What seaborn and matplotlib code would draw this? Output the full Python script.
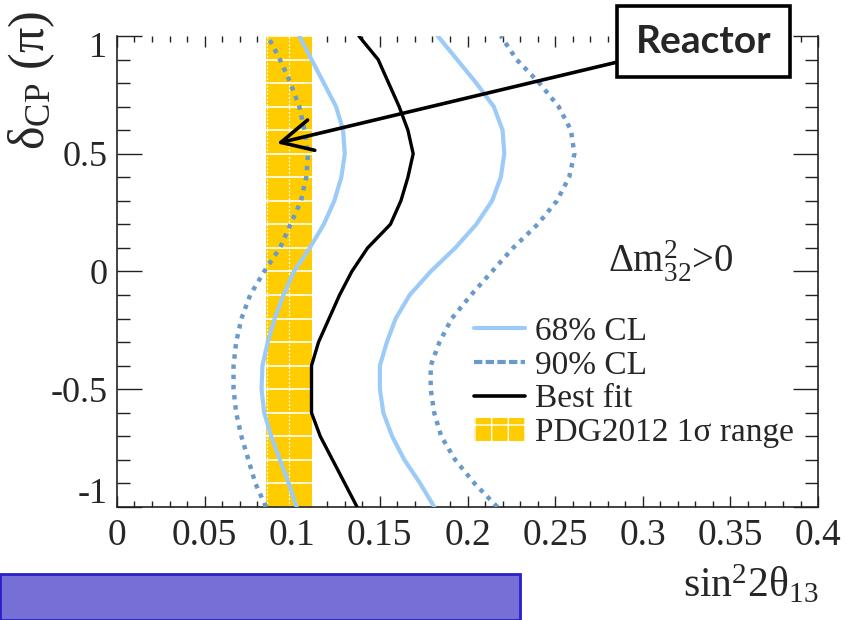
import numpy as np
import pandas as pd
import matplotlib
matplotlib.use("Agg")
import matplotlib.pyplot as plt
from matplotlib.lines import Line2D
from matplotlib.patches import Patch, Rectangle
from matplotlib.ticker import FixedLocator, MultipleLocator
import seaborn as sns

# ---- data -----------------------------------------------------------------
delta_cp = [-1.0, -0.9, -0.8, -0.7, -0.6, -0.5, -0.4, -0.3, -0.2, -0.1, 0.0,
            0.1, 0.2, 0.3, 0.4, 0.5, 0.6, 0.7, 0.8, 0.9, 1.0]

best_fit = [0.137, 0.130, 0.123, 0.116, 0.111, 0.111, 0.111, 0.115, 0.121, 0.127,
            0.134, 0.143, 0.156, 0.162, 0.166, 0.169, 0.166, 0.161, 0.155, 0.149, 0.138]

cl68_low = [0.1025, 0.098, 0.093, 0.088, 0.084, 0.0825, 0.083, 0.086, 0.090, 0.095,
            0.101, 0.110, 0.118, 0.124, 0.128, 0.130, 0.129, 0.125, 0.118, 0.111, 0.104]
cl68_high = [0.181, 0.173, 0.164, 0.157, 0.152, 0.150, 0.150, 0.154, 0.159, 0.167,
             0.179, 0.193, 0.205, 0.214, 0.219, 0.221, 0.220, 0.215, 0.205, 0.194, 0.183]

cl90_low = [0.085, 0.079, 0.075, 0.071, 0.068, 0.0665, 0.0665, 0.068, 0.071, 0.076,
            0.084, 0.093, 0.099, 0.105, 0.108, 0.109, 0.107, 0.104, 0.099, 0.093, 0.086]
cl90_high = [0.217, 0.204, 0.193, 0.185, 0.181, 0.179, 0.179, 0.184, 0.191, 0.202,
             0.214, 0.226, 0.240, 0.251, 0.258, 0.261, 0.259, 0.252, 0.241, 0.228, 0.219]

pdg2012_center = 0.098
pdg2012_sigma = 0.013

reactor_point = (0.0913, 0.544)

x_ticks = [0.0, 0.05, 0.1, 0.15, 0.2, 0.25, 0.3, 0.35, 0.4]
x_tick_labels = ["0", "0.05", "0.1", "0.15", "0.2", "0.25", "0.3", "0.35", "0.4"]
y_ticks = [-1.0, -0.5, 0.0, 0.5, 1.0]
y_tick_labels = ["-1", "-0.5", "0", "0.5", "1"]

# ---- style ------------------------------------------------------------------
sns.set_theme(style="ticks")
plt.rcParams["font.family"] = ["Liberation Serif", "DejaVu Serif"]
plt.rcParams["mathtext.fontset"] = "custom"
plt.rcParams["mathtext.rm"] = "Liberation Serif"
plt.rcParams["mathtext.it"] = "Liberation Serif:italic"
plt.rcParams["mathtext.bf"] = "Liberation Serif:bold"
plt.rcParams["axes.unicode_minus"] = False
plt.rcParams["hatch.linewidth"] = 1.0

C68 = "#9ccbf7"
C90 = "#6a9acb"
CBAND = "#ffcc00"
AXC = "#222222"

fig = plt.figure(figsize=(8.47, 6.2), dpi=100)
ax = fig.add_axes([0.1381, 0.1823, 0.8277, 0.7597])

# PDG2012 reactor band with its white grid
band_lo = pdg2012_center - pdg2012_sigma
band_hi = pdg2012_center + pdg2012_sigma
ax.axvspan(band_lo, band_hi, color=CBAND, lw=0, zorder=1)
grid_y = np.arange(-10, 11) / 10.0
ax.hlines(grid_y, band_lo, band_hi, colors="white", lw=1.2, zorder=1.5)
ax.vlines([band_lo + 0.0008, pdg2012_center], -1, 1, colors="white", lw=0.9,
          linestyles=(0, (1.5, 1.5)), zorder=1.5)

# contours: left and right branches drawn as separate open lines
curves = pd.DataFrame({
    "delta": delta_cp,
    "best": best_fit,
    "c68_lo": cl68_low, "c68_hi": cl68_high,
    "c90_lo": cl90_low, "c90_hi": cl90_high,
})

for col in ["c90_lo", "c90_hi"]:
    sns.lineplot(data=curves, x=col, y="delta", sort=False, estimator=None, ax=ax,
                 color=C90, lw=3.2, zorder=3)
    ax.lines[-1].set_dashes((1.0, 1.3))
    ax.lines[-1].set_dash_capstyle("butt")
for col in ["c68_lo", "c68_hi"]:
    sns.lineplot(data=curves, x=col, y="delta", sort=False, estimator=None, ax=ax,
                 color=C68, lw=3.0, zorder=3)
sns.lineplot(data=curves, x="best", y="delta", sort=False, estimator=None, ax=ax,
             color="black", lw=2.4, zorder=4)

# axes, ticks
ax.set_xlim(x_ticks[0], x_ticks[-1])
ax.set_ylim(y_ticks[0], y_ticks[-1])
ax.xaxis.set_major_locator(FixedLocator(x_ticks))
ax.xaxis.set_minor_locator(MultipleLocator(0.01))
ax.yaxis.set_major_locator(FixedLocator(y_ticks))
ax.yaxis.set_minor_locator(MultipleLocator(0.1))
ax.set_xticklabels(x_tick_labels)
ax.set_yticklabels(["" if abs(v) == 1 else s for v, s in zip(y_ticks, y_tick_labels)])

for side in ["left", "right", "bottom"]:
    ax.spines[side].set_color(AXC)
    ax.spines[side].set_linewidth(1.2)
ax.spines["top"].set_visible(False)

ax.tick_params(axis="x", which="major", direction="in", length=8, width=1,
               color=AXC, top=True, bottom=True, labelsize=27, pad=8)
ax.tick_params(axis="x", which="minor", direction="in", length=4.5, width=1,
               color=AXC, top=True, bottom=True)
ax.tick_params(axis="y", which="major", direction="in", length=18, width=1,
               color=AXC, left=True, right=True, labelsize=26, pad=7)
ax.tick_params(axis="y", which="minor", direction="in", length=9.5, width=1,
               color=AXC, left=True, right=True)

# end labels of the delta axis sit just inside the frame
for v, s in zip(y_ticks, y_tick_labels):
    if abs(v) == 1:
        ax.annotate(s, xy=(0, v), xycoords=("axes fraction", "data"),
                    xytext=(-7, -9 if v > 0 else 9), textcoords="offset points",
                    ha="right", va="center", fontsize=26, annotation_clip=False)

ax.set_xlabel("sin$^{2}$2θ$_{13}$", fontsize=30, loc="right")
ax.xaxis.label.set_va("baseline")
ax.xaxis.set_label_coords(1.0, -0.1915)

ax.set_ylabel("δ$_{\\mathrm{CP}}$ (π)", fontsize=36)
ax.yaxis.label.set_va("center")
ax.yaxis.set_label_coords(-0.122, 0.905)

ax.text(0.28, -0.005, "Δ$\\mathrm{m}^{2}_{32}$>0", fontsize=28,
        ha="left", va="baseline", zorder=6)

# legend
handles = [
    Line2D([], [], color=C68, lw=3.0),
    Line2D([], [], color=C90, lw=3.0, dashes=(2.0, 0.8), dash_capstyle="butt"),
    Line2D([], [], color="black", lw=2.6),
    Patch(facecolor=CBAND, edgecolor="white", hatch="+", lw=0),
]
labels = ["68% CL", "90% CL", "Best fit", "PDG2012 1σ range"]
ax.legend(handles, labels, loc="upper left", bbox_to_anchor=(0.509, 0.405),
          frameon=False, fontsize=24, handlelength=1.55, handletextpad=0.3,
          labelspacing=0.1, borderpad=0, borderaxespad=0)

# callout box pointing at the reactor band
ax.annotate("Reactor", xy=reactor_point, xycoords="data",
            xytext=(0.8306, 0.9331), textcoords="figure fraction",
            ha="center", va="center", fontsize=28, fontweight="bold",
            family=["Lato", "DejaVu Sans"], zorder=10, annotation_clip=False,
            bbox=dict(boxstyle="square,pad=0.47", fc="white", ec="black", lw=2.6),
            arrowprops=dict(arrowstyle="->,head_length=0.8,head_width=0.4",
                            lw=2.6, color="black", shrinkA=0, shrinkB=0))

# slide banner at the bottom edge
fig.patches.append(Rectangle((0.0, 0.0), 520 / 847, 46 / 620, transform=fig.transFigure,
                             facecolor="#7670d6", edgecolor="#2a1fc8", lw=2.0,
                             zorder=0))

fig.savefig("out.png", dpi=100)
